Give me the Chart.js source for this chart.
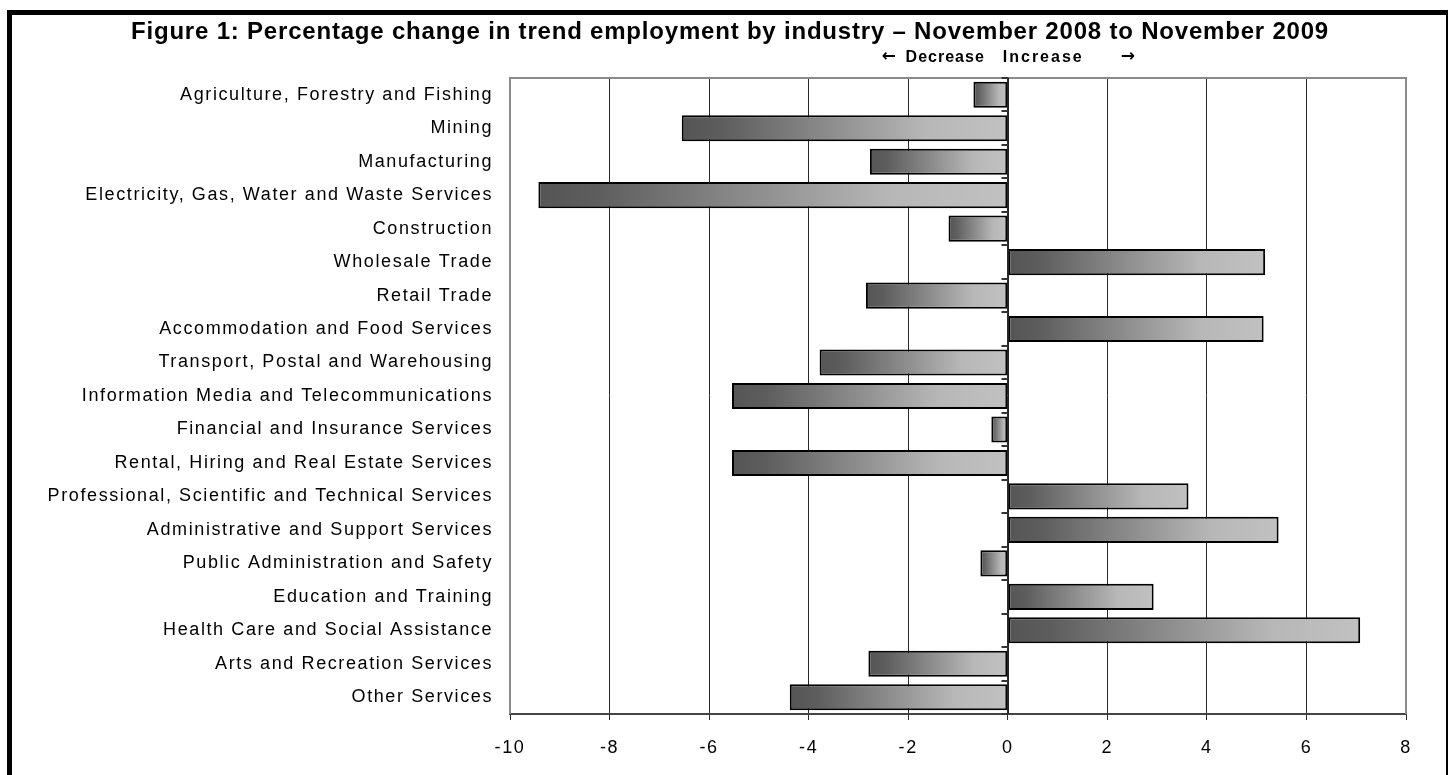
<!DOCTYPE html>
<html>
<head>
<meta charset="utf-8">
<title>Employment by industry</title>
<script src="https://cdn.jsdelivr.net/npm/chart.js@4/dist/chart.umd.min.js"></script>
<style>
  html, body { margin: 0; padding: 0; background: #fff; }
  #wrap { position: relative; width: 1449px; height: 775px; }
</style>
</head>
<body>
<div id="wrap"><canvas id="chart" width="1449" height="775"></canvas></div>
<script>
// Industry categories, top to bottom
const industries = [
  'Agriculture, Forestry and Fishing',
  'Mining',
  'Manufacturing',
  'Electricity, Gas, Water and Waste Services',
  'Construction',
  'Wholesale Trade',
  'Retail Trade',
  'Accommodation and Food Services',
  'Transport, Postal and Warehousing',
  'Information Media and Telecommunications',
  'Financial and Insurance Services',
  'Rental, Hiring and Real Estate Services',
  'Professional, Scientific and Technical Services',
  'Administrative and Support Services',
  'Public Administration and Safety',
  'Education and Training',
  'Health Care and Social Assistance',
  'Arts and Recreation Services',
  'Other Services'
];

// Percentage change in trend employment, Nov 2008 to Nov 2009
const changePct = [
  -0.69, -6.55, -2.77, -9.43, -1.19, 5.17, -2.85, 5.14, -3.78, -5.54,
  -0.33, -5.54, 3.63, 5.44, -0.55, 2.93, 7.08, -2.80, -4.38
];

// Horizontal axis range and tick step
const xMin = -10;
const xMax = 8;
const xStep = 2;

const titleText = 'Figure 1: Percentage change in trend employment by industry \u2013 November 2008 to November 2009';
const decreaseText = 'Decrease';
const increaseText = 'Increase';

const FONT = '"Liberation Sans", Arial, Helvetica, sans-serif';

// Grey shaded fill running from the left end of each bar to its right end
function barFill(context) {
  const chart = context.chart;
  const xs = chart.scales && chart.scales.x;
  if (context.type !== 'data' || !xs || !chart.chartArea) return '#999';
  const v = context.raw;
  const a = xs.getPixelForValue(Math.min(0, v));
  const b = xs.getPixelForValue(Math.max(0, v));
  const g = chart.ctx.createLinearGradient(a, 0, b, 0);
  g.addColorStop(0, '#555555');
  g.addColorStop(0.12, '#5d5d5d');
  g.addColorStop(0.45, '#8c8c8c');
  g.addColorStop(0.75, '#b7b7b7');
  g.addColorStop(1, '#c1c1c1');
  return g;
}

// Page frame, plot frame, zero axis with category ticks, and headings
const decorations = {
  id: 'decorations',
  beforeDraw(chart) {
    chart.ctx.letterSpacing = '1.6px';
  },
  beforeDatasetsDraw(chart) {
    const { ctx, chartArea: ca } = chart;
    ctx.save();
    ctx.strokeStyle = '#8a8a8a';
    ctx.lineWidth = 2;
    ctx.beginPath();
    ctx.moveTo(ca.left, ca.bottom);
    ctx.lineTo(ca.left, ca.top);
    ctx.lineTo(ca.right, ca.top);
    ctx.lineTo(ca.right, ca.bottom);
    ctx.stroke();
    ctx.restore();
  },
  afterDatasetsDraw(chart) {
    const { ctx, chartArea: ca, scales } = chart;
    const x0 = Math.round(scales.x.getPixelForValue(0)) + 0.5;
    ctx.save();
    ctx.strokeStyle = '#222';
    ctx.lineWidth = 1;
    ctx.beginPath();
    ctx.moveTo(x0, ca.top);
    ctx.lineTo(x0, ca.bottom);
    ctx.stroke();
    ctx.lineWidth = 2;
    ctx.strokeStyle = '#333';
    const n = industries.length;
    for (let i = 0; i <= n; i++) {
      let y;
      if (i === 0) y = ca.top;
      else if (i === n) y = ca.bottom;
      else y = (scales.y.getPixelForValue(i - 1) + scales.y.getPixelForValue(i)) / 2;
      y = Math.round(y);
      ctx.beginPath();
      ctx.moveTo(x0 - 7, y);
      ctx.lineTo(x0, y);
      ctx.stroke();
    }
    ctx.restore();
  },
  afterDraw(chart) {
    const { ctx, scales } = chart;
    const zx = scales.x.getPixelForValue(0);
    ctx.save();
    ctx.fillStyle = '#000';
    ctx.fillRect(7, 10, 5, 765);
    ctx.fillRect(7, 10, 1441, 5);
    ctx.fillRect(1446, 10, 2, 765);

    ctx.textBaseline = 'middle';
    ctx.letterSpacing = '0.8px';
    ctx.textAlign = 'center';
    ctx.font = 'bold 24px ' + FONT;
    ctx.fillText(titleText, 730, 32);

    // direction hint centred on the zero line
    ctx.font = 'bold 16px ' + FONT;
    ctx.letterSpacing = '1px';
    ctx.textAlign = 'right';
    ctx.fillText(decreaseText, zx - 23, 58);
    ctx.letterSpacing = '2px';
    ctx.textAlign = 'left';
    ctx.fillText(increaseText, zx - 5, 58);
    ctx.letterSpacing = '0px';
    ctx.font = 'bold 17px "DejaVu Sans", sans-serif';
    ctx.textAlign = 'center';
    ctx.fillText('\u2190', zx - 119, 57);
    ctx.fillText('\u2192', zx + 120, 57);
    ctx.restore();
  }
};

new Chart(document.getElementById('chart'), {
  type: 'bar',
  data: {
    labels: industries,
    datasets: [{
      data: changePct,
      backgroundColor: barFill,
      borderColor: '#000',
      borderWidth: 2,
      borderSkipped: false,
      barPercentage: 0.78,
      categoryPercentage: 1
    }]
  },
  options: {
    indexAxis: 'y',
    responsive: false,
    animation: false,
    devicePixelRatio: 1,
    layout: { padding: { left: 0, top: 78, right: 43, bottom: 0 } },
    plugins: {
      legend: { display: false },
      title: { display: false },
      tooltip: { enabled: false }
    },
    scales: {
      x: {
        type: 'linear',
        min: xMin,
        max: xMax,
        ticks: {
          stepSize: xStep,
          autoSkip: false,
          color: '#000',
          padding: 17,
          font: { family: FONT, size: 18 }
        },
        grid: { color: '#2a2a2a', lineWidth: 1, tickLength: 6, drawTicks: true },
        border: { display: true, color: '#444', width: 2 },
        afterFit(scale) { scale.height = 61; }
      },
      y: {
        ticks: {
          color: '#000',
          padding: 17,
          autoSkip: false,
          font: { family: FONT, size: 18 }
        },
        grid: { display: false, drawTicks: false },
        border: { display: false },
        afterFit(scale) { scale.width = 510; }
      }
    }
  },
  plugins: [decorations]
});
</script>
</body>
</html>
